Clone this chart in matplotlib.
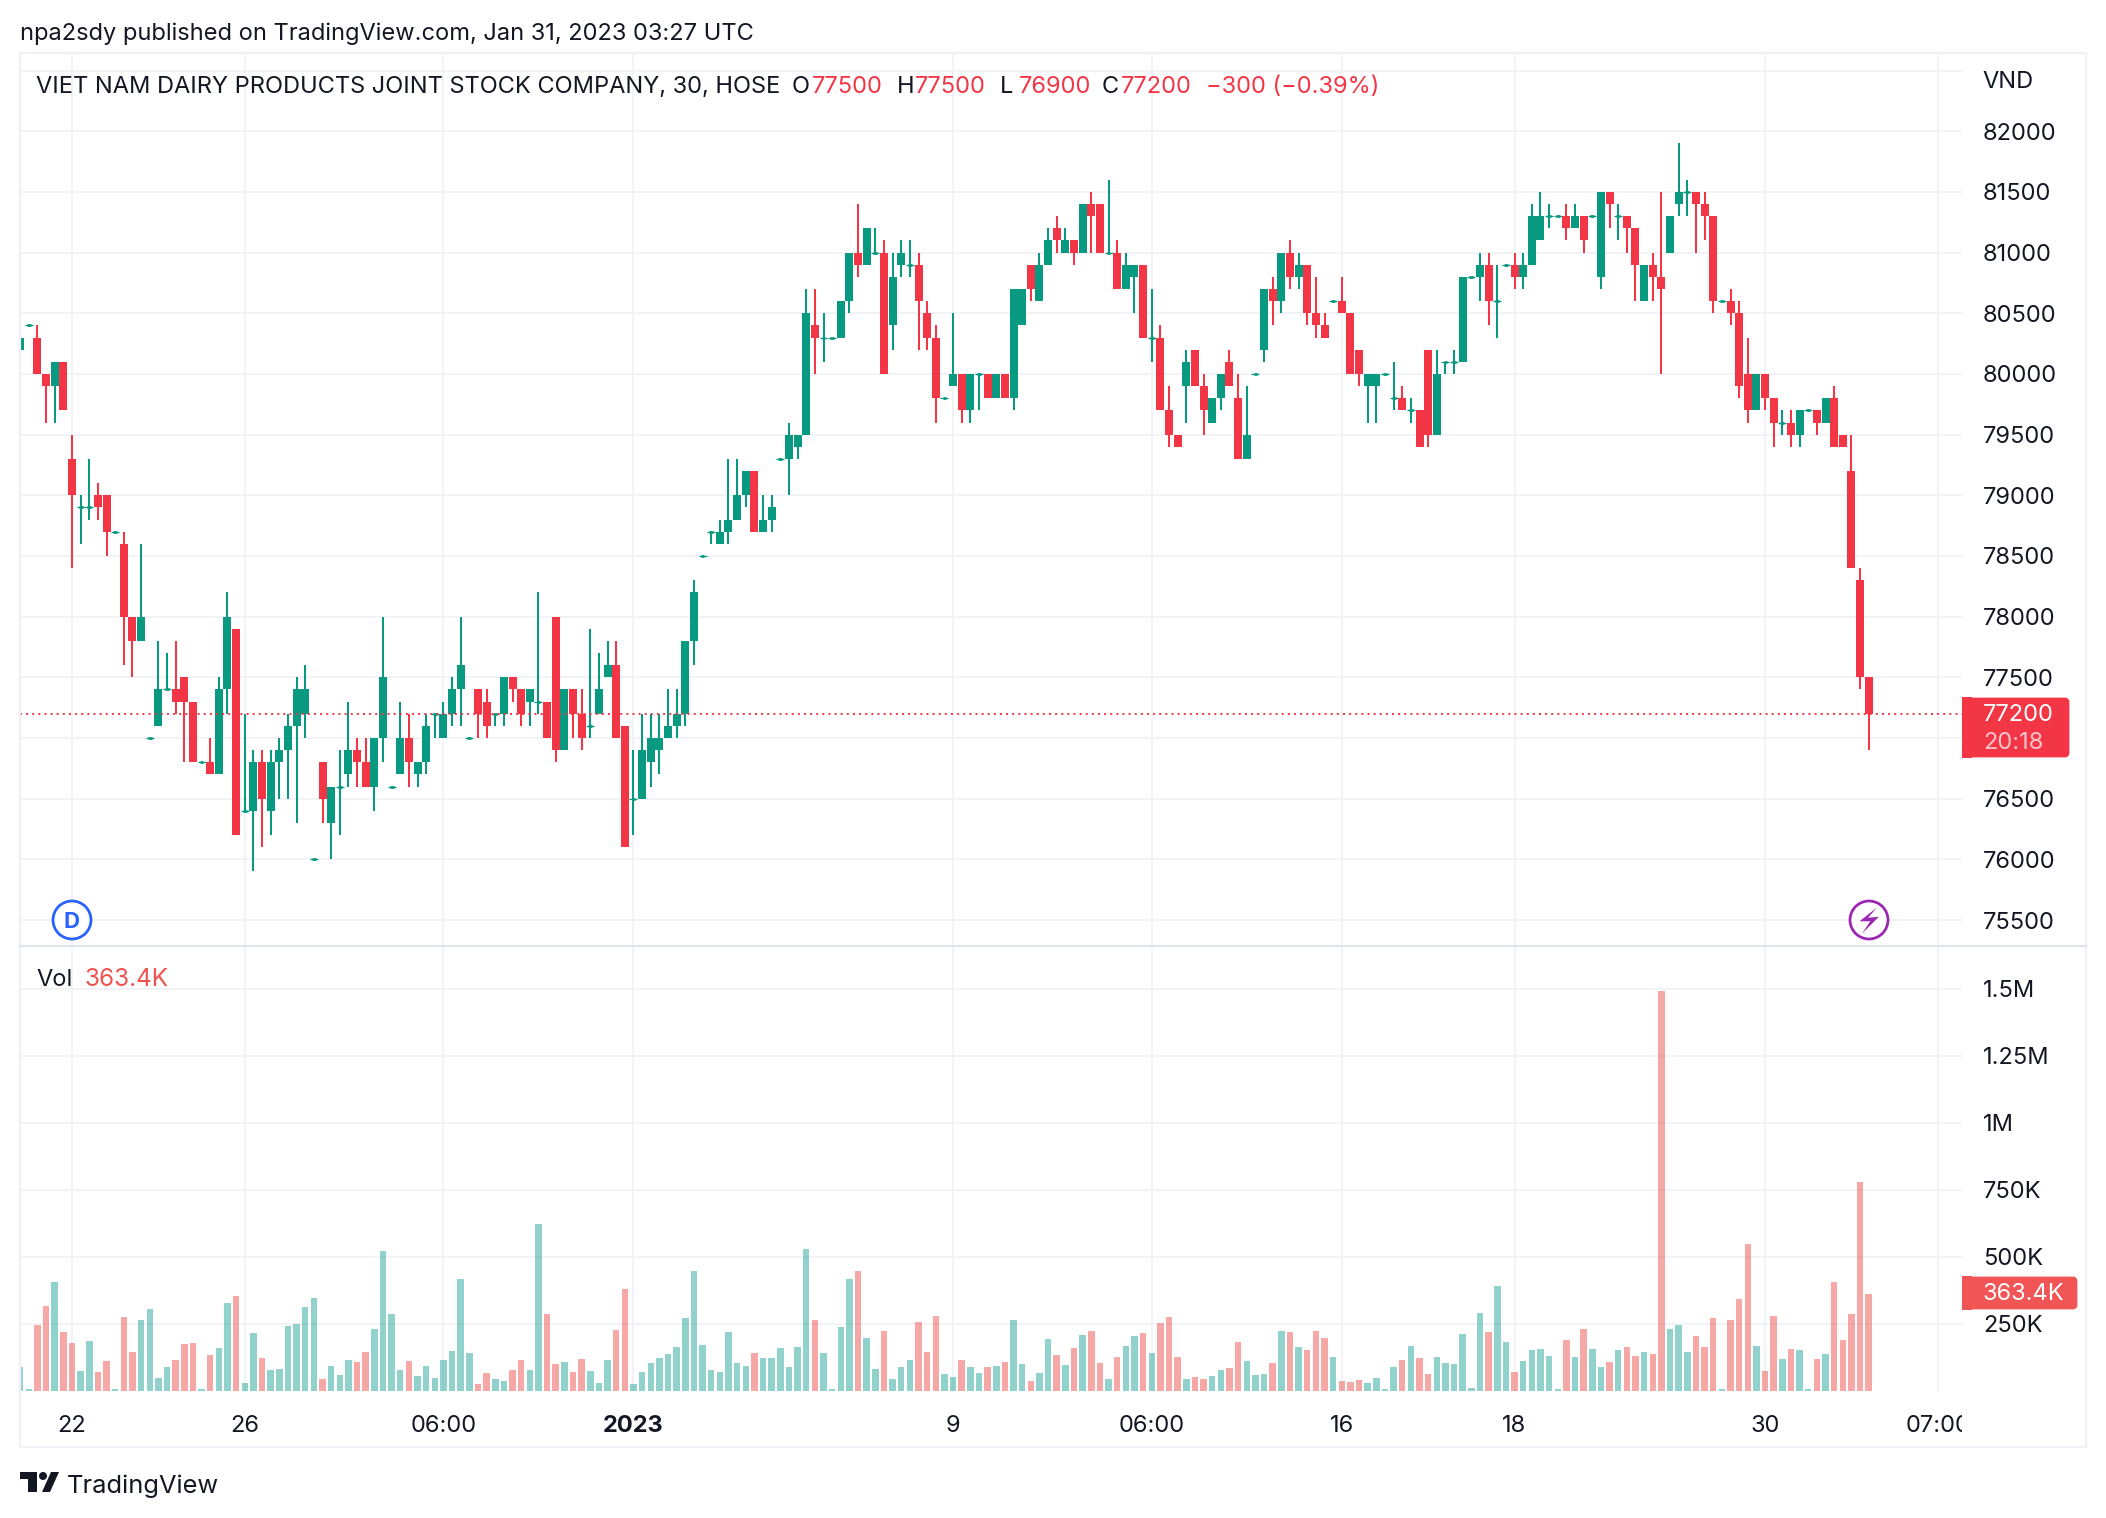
"""
VNM 30 min candles with volume, TradingView look
"""

import matplotlib
matplotlib.use("Agg")
import matplotlib.pyplot as plt
from matplotlib.patches import Circle, FancyBboxPatch, Polygon, Rectangle
from matplotlib.transforms import Bbox

plt.rcParams['font.family'] = ['Inter', 'DejaVu Sans']

opens = [
    80200, 80400, 80300, 80000, 79900, 80100, 79300, 78900, 78900, 79000,
    79000, 78700, 78600, 78000, 77800, 77000, 77100, 77400, 77400, 77500,
    77300, 76800, 76800, 76700, 77400, 77900, 76400, 76400, 76800, 76400,
    76800, 76900, 77100, 77200, 76000, 76800, 76300, 76600, 76700, 76900,
    76800, 76600, 77000, 76600, 76700, 77000, 76700, 76800, 77200, 77000,
    77200, 77400, 77000, 77400, 77300, 77200, 77200, 77500, 77400, 77300,
    77300, 77300, 78000, 76900, 77400, 77200, 77100, 77200, 77500, 77600,
    77100, 76500, 76500, 76800, 76900, 77000, 77100, 77200, 77800, 78500,
    78700, 78600, 78700, 78800, 79000, 79200, 78700, 78800, 79300, 79300,
    79400, 79500, 80400, 80300, 80300, 80300, 80600, 81000, 80900, 81000,
    81000, 80400, 80900, 80900, 80900, 80500, 80300, 79800, 79900, 80000,
    79700, 80000, 80000, 79800, 80000, 79800, 80400, 80900, 80600, 80900,
    81200, 81000, 81100, 81000, 81400, 81400, 81000, 81000, 80700, 80800,
    80900, 80300, 80300, 79700, 79500, 79900, 80200, 79900, 79600, 79800,
    80100, 79800, 79300, 80000, 80200, 80700, 80600, 81000, 80800, 80900,
    80500, 80400, 80600, 80600, 80500, 80200, 79900, 79900, 80000, 79800,
    79800, 79700, 79700, 80200, 79500, 80100, 80100, 80100, 80800, 80800,
    80900, 80600, 80900, 80900, 80800, 80900, 81100, 81300, 81300, 81300,
    81200, 81300, 81300, 80800, 81500, 81300, 81300, 81200, 80600, 80900,
    80800, 81000, 81400, 81500, 81500, 81400, 81300, 80600, 80600, 80500,
    80000, 79700, 80000, 79800, 79600, 79600, 79500, 79700, 79700, 79600,
    79800, 79500, 79200, 78300, 77500,
]
highs = [
    80500, 80400, 80400, 80000, 80100, 80100, 79500, 79000, 79300, 79100,
    79000, 78700, 78700, 78000, 78600, 77000, 77800, 77700, 77800, 77500,
    77300, 76800, 77000, 77500, 78200, 77900, 77200, 76900, 76900, 76900,
    77000, 77200, 77500, 77600, 76000, 76800, 76600, 76900, 77300, 77000,
    77000, 77000, 78000, 76600, 77300, 77200, 76800, 77200, 77200, 77300,
    77500, 78000, 77000, 77400, 77400, 77200, 77500, 77500, 77400, 77400,
    78200, 77300, 78000, 77400, 77400, 77400, 77900, 77700, 77800, 77800,
    77100, 76900, 77200, 77200, 77200, 77400, 77400, 77800, 78300, 78500,
    78700, 78800, 79300, 79300, 79200, 79200, 79000, 79000, 79300, 79600,
    79500, 80700, 80700, 80500, 80300, 80600, 81000, 81400, 81200, 81200,
    81100, 81000, 81100, 81100, 81000, 80600, 80400, 79800, 80500, 80000,
    80000, 80000, 80000, 80000, 80000, 80700, 80700, 80900, 81000, 81200,
    81300, 81200, 81100, 81400, 81500, 81400, 81600, 81100, 81000, 80900,
    80900, 80700, 80400, 79900, 79500, 80200, 80200, 80000, 79800, 80000,
    80200, 80000, 79900, 80000, 80700, 80800, 81000, 81100, 81000, 80900,
    80800, 80500, 80600, 80800, 80500, 80200, 80000, 80000, 80000, 80100,
    79900, 79800, 79700, 80200, 80200, 80100, 80200, 80800, 80800, 81000,
    81000, 80900, 80900, 81000, 81000, 81400, 81500, 81400, 81300, 81400,
    81400, 81300, 81300, 81500, 81500, 81400, 81300, 81200, 80900, 81000,
    81500, 81300, 81900, 81600, 81500, 81500, 81300, 80600, 80700, 80600,
    80300, 80000, 80000, 79800, 79700, 79700, 79700, 79700, 79700, 79800,
    79900, 79500, 79500, 78400, 77500,
]
lows = [
    80200, 80400, 80000, 79600, 79600, 79700, 78400, 78600, 78800, 78800,
    78500, 78700, 77600, 77500, 77800, 77000, 77100, 77400, 77200, 76800,
    76800, 76800, 76700, 76700, 77200, 76200, 76400, 75900, 76100, 76200,
    76500, 76500, 76300, 77000, 76000, 76300, 76000, 76200, 76600, 76600,
    76600, 76400, 76800, 76600, 76700, 76600, 76600, 76700, 77000, 77000,
    77100, 77100, 77000, 77000, 77000, 77100, 77100, 77300, 77100, 77100,
    77200, 77000, 76800, 76900, 77000, 76900, 77000, 77200, 77500, 77000,
    76100, 76200, 76500, 76600, 76700, 77000, 77000, 77100, 77600, 78500,
    78600, 78600, 78600, 78800, 78900, 78700, 78700, 78700, 79300, 79000,
    79300, 79500, 80000, 80100, 80300, 80300, 80500, 80800, 80900, 81000,
    80000, 80200, 80800, 80800, 80200, 80200, 79600, 79800, 79900, 79600,
    79600, 79700, 79800, 79800, 79800, 79700, 80400, 80600, 80600, 80900,
    81000, 81000, 80900, 81000, 81000, 81000, 81000, 80700, 80700, 80500,
    80300, 80100, 79700, 79400, 79400, 79600, 79900, 79500, 79600, 79700,
    79900, 79300, 79300, 80000, 80100, 80400, 80500, 80700, 80700, 80400,
    80300, 80300, 80600, 80500, 80000, 79900, 79600, 79600, 80000, 79700,
    79700, 79600, 79400, 79400, 79500, 80000, 80000, 80100, 80800, 80600,
    80400, 80300, 80900, 80700, 80700, 80900, 81100, 81200, 81300, 81100,
    81200, 81000, 81300, 80700, 81200, 81100, 81000, 80600, 80600, 80600,
    80000, 81000, 81300, 81300, 81000, 81100, 80500, 80600, 80400, 79800,
    79600, 79700, 79700, 79400, 79500, 79400, 79400, 79700, 79500, 79600,
    79400, 79400, 78400, 77400, 76900,
]
closes = [
    80300, 80400, 80000, 79900, 80100, 79700, 79000, 78900, 78900, 78900,
    78700, 78700, 78000, 77800, 78000, 77000, 77400, 77400, 77300, 77300,
    76800, 76800, 76700, 77400, 78000, 76200, 76400, 76800, 76500, 76800,
    76900, 77100, 77400, 77400, 76000, 76500, 76600, 76600, 76900, 76800,
    76600, 77000, 77500, 76600, 77000, 76800, 76800, 77100, 77200, 77200,
    77400, 77600, 77000, 77200, 77100, 77200, 77500, 77400, 77200, 77400,
    77300, 77000, 76900, 77400, 77200, 77000, 77100, 77400, 77600, 77000,
    76100, 76500, 76900, 77000, 77000, 77100, 77200, 77800, 78200, 78500,
    78700, 78700, 78800, 79000, 79200, 78700, 78800, 78900, 79300, 79500,
    79500, 80500, 80300, 80300, 80300, 80600, 81000, 80900, 81200, 81000,
    80000, 80800, 81000, 80900, 80600, 80300, 79800, 79800, 80000, 79700,
    80000, 80000, 79800, 80000, 79800, 80700, 80700, 80700, 80900, 81100,
    81100, 81100, 81000, 81400, 81300, 81000, 81000, 80700, 80900, 80900,
    80300, 80300, 79700, 79500, 79400, 80100, 79900, 79700, 79800, 80000,
    79900, 79300, 79500, 80000, 80700, 80600, 81000, 80800, 80900, 80500,
    80400, 80300, 80600, 80500, 80000, 80000, 80000, 80000, 80000, 79800,
    79700, 79700, 79400, 79500, 80000, 80100, 80100, 80800, 80800, 80900,
    80600, 80600, 80900, 80800, 80900, 81300, 81300, 81300, 81300, 81200,
    81300, 81100, 81300, 81500, 81400, 81300, 81200, 80900, 80900, 80800,
    80700, 81300, 81500, 81500, 81400, 81300, 80600, 80600, 80500, 79900,
    79700, 80000, 79800, 79600, 79600, 79500, 79700, 79700, 79600, 79800,
    79400, 79400, 78400, 77500, 77200,
]
# thousands of shares
volumes = [
    89, 7, 245, 316, 405, 219, 178, 74, 186, 71,
    111, 7, 275, 145, 264, 304, 48, 89, 115, 174,
    178, 7, 134, 160, 327, 356, 30, 215, 123, 78,
    82, 241, 249, 312, 345, 45, 93, 59, 115, 108,
    145, 230, 523, 286, 78, 111, 56, 93, 48, 115,
    149, 416, 141, 26, 67, 45, 37, 78, 115, 78,
    624, 286, 100, 108, 71, 119, 74, 30, 115, 226,
    382, 26, 71, 104, 123, 137, 163, 271, 449, 171,
    78, 71, 219, 104, 93, 141, 123, 123, 160, 89,
    163, 531, 264, 141, 7, 238, 416, 446, 197, 82,
    223, 45, 89, 115, 256, 145, 278, 63, 52, 115,
    89, 67, 89, 93, 108, 264, 100, 37, 67, 193,
    134, 97, 160, 208, 223, 104, 45, 126, 167, 204,
    215, 141, 252, 275, 126, 45, 52, 45, 56, 78,
    85, 182, 111, 59, 63, 104, 223, 219, 163, 152,
    223, 197, 126, 37, 33, 41, 30, 48, 7, 89,
    115, 167, 123, 63, 126, 104, 100, 212, 11, 290,
    219, 390, 182, 71, 111, 152, 156, 130, 7, 189,
    126, 230, 156, 89, 108, 152, 163, 130, 145, 137,
    1492, 230, 245, 145, 204, 163, 271, 7, 264, 342,
    549, 167, 74, 278, 119, 156, 152, 7, 119, 137,
    405, 189, 286, 780, 363.4,
]

price_ticks = [75500, 76000, 76500, 77000, 77500, 78000, 78500, 79000,
               79500, 80000, 80500, 81000, 81500, 82000, 82500]
# 77000 sits behind the last price badge, 82500 behind the VND unit
price_labels = ['' if p in (77000, 82500) else str(p) for p in price_ticks]
vol_ticks = [250, 500, 750, 1000, 1250, 1500]
vol_labels = ['250K', '500K', '750K', '1M', '1.25M', '1.5M']
time_ticks = [6, 26, 49, 71, 108, 131, 153, 173, 202, 222]
time_labels = ['22', '26', '06:00', '2023', '9', '06:00', '16', '18', '30', '07:00']
last_price = 77200

UP = '#089981'
DOWN = '#F23645'
TEXT = '#131722'
GRID = '#F2F3F6'
BORDER = '#F0F1F6'

W, H = 2106, 1518
fig = plt.figure(figsize=(W / 100, H / 100), dpi=100, facecolor='white')


def pane(left, top, right, bottom):
    """Axes from pixel edges, y counted from the top of the picture"""
    return fig.add_axes([left / W, 1 - bottom / H, (right - left) / W, (bottom - top) / H])


ax = pane(20, 53, 1962, 946)
ax_vol = pane(20, 946, 1962, 1392)

# one bar is 8.639 px, bar 0 sits at x = 20.17
x_lim = (-0.02, 224.8)
for a in (ax, ax_vol):
    a.set_xlim(*x_lim)
    a.set_xticks(time_ticks)
    a.grid(True, color=GRID, linewidth=1.4)
    a.set_axisbelow(True)
    for s in a.spines.values():
        s.set_visible(False)
    a.yaxis.tick_right()
    a.tick_params(axis='both', length=0)
    a.tick_params(axis='y', pad=15, labelsize=17, labelcolor=TEXT)

ax.set_ylim(75286, 82645)
ax.set_yticks(price_ticks)
ax.set_yticklabels(price_labels)
ax.tick_params(axis='x', labelbottom=False)

ax_vol.set_ylim(-4, 1660)
ax_vol.set_yticks(vol_ticks)
ax_vol.set_yticklabels(vol_labels)
ax_vol.tick_params(axis='x', pad=16.5, labelsize=17, labelcolor=TEXT)
ax_vol.set_xticklabels(time_labels)

clip = Bbox([[20, 0], [1962, H]])
for lab, name in zip(ax_vol.get_xticklabels(), time_labels):
    lab.set_clip_box(clip)
    lab.set_clip_on(True)
    if name == '2023':
        lab.set_fontweight('bold')

# candles and volume
for i, (o, h, l, c, v) in enumerate(zip(opens, highs, lows, closes, volumes)):
    col = UP if c >= o else DOWN
    if h > l:
        ax.vlines(i, l, h, color=col, linewidth=1.45, zorder=3)
    if c == o:
        ax.hlines(c, i - 0.46, i + 0.46, color=col, linewidth=0.9, zorder=4)
        ax.hlines(c, i - 0.22, i + 0.22, color=col, linewidth=2.0, zorder=4)
    else:
        ax.bar(i, abs(c - o), bottom=min(o, c), width=0.926, color=col, linewidth=0, zorder=4)
    vcol = '#26A69A' if c >= o else '#EF5350'
    ax_vol.bar(i, v, width=0.75, color=vcol, alpha=0.5, linewidth=0, zorder=3)

ax.axhline(last_price, color=DOWN, linewidth=1.4, linestyle=(0, (1.0, 2.15)), zorder=5)

# everything else is placed in picture pixels
ov = fig.add_axes([0, 0, 1, 1], zorder=10)
ov.set_xlim(0, W)
ov.set_ylim(H, 0)
ov.axis('off')
ov.patch.set_visible(False)

ov.add_patch(Rectangle((20, 53), 2066, 1394, fill=False, edgecolor=BORDER, linewidth=1.6))
ov.plot([20, 2086], [946, 946], color='#E0E3EB', linewidth=1.5)

ov.text(20, 34, 'npa2sdy published on TradingView.com, Jan 31, 2023 03:27 UTC',
        fontsize=17, color=TEXT, va='center')
ov.text(36, 87, 'VIET NAM DAIRY PRODUCTS JOINT STOCK COMPANY, 30, HOSE',
        fontsize=17, color=TEXT, va='center')
for x, s, col in [(792, 'O', TEXT), (812, '77500', DOWN), (897, 'H', TEXT), (915, '77500', DOWN),
                  (1000, 'L', TEXT), (1019, '76900', DOWN), (1102, 'C', TEXT), (1121, '77200', DOWN),
                  (1206, '\u2212300 (\u22120.39%)', DOWN)]:
    ov.text(x, 87, s, fontsize=17, color=col, va='center')
ov.text(1982, 82, 'VND', fontsize=17, color=TEXT, va='center')
ov.text(36, 980, 'Vol', fontsize=17, color=TEXT, va='center')
ov.text(85, 980, '363.4K', fontsize=17.5, color='#EF5350', va='center')

# last price badge
ov.add_patch(FancyBboxPatch((1964, 699), 104, 57, boxstyle='round,pad=0,rounding_size=3',
                            facecolor=DOWN, edgecolor=DOWN, linewidth=2))
ov.add_patch(Rectangle((1962, 697), 10, 61, facecolor=DOWN, linewidth=0))
ov.text(1983, 715, '77200', fontsize=17, color='white', va='center')
ov.text(1983, 743, '20:18', fontsize=17, color='#FBC4C9', va='center')

# last volume badge
ov.add_patch(FancyBboxPatch((1964, 1278), 112, 30, boxstyle='round,pad=0,rounding_size=3',
                            facecolor='#F15555', edgecolor='#F15555', linewidth=2))
ov.add_patch(Rectangle((1962, 1276), 10, 34, facecolor='#F15555', linewidth=0))
ov.text(1983, 1294, '363.4K', fontsize=17, color='white', va='center')

# D and lightning markers
ov.add_patch(Circle((72, 920), 19, facecolor='white', edgecolor='#2962FF', linewidth=2))
ov.text(72, 920, 'D', fontsize=16, fontweight='bold', color='#2962FF', ha='center', va='center_baseline')
ov.add_patch(Circle((1869, 920), 19, facecolor='white', edgecolor='#9C27B0', linewidth=2))
bolt = [(8, -12.5), (-9.5, 1.3), (1.3, 1.3), (-7.3, 13.9), (9.9, -3.2), (-0.9, -2.3)]
ov.add_patch(Polygon([(1869 + dx, 920 + dy) for dx, dy in bolt], facecolor='#9C27B0', linewidth=0))

# TradingView logo
ov.add_patch(Polygon([(20, 1472), (37, 1472), (37, 1492), (28, 1492), (28, 1479), (20, 1479)],
                     facecolor=TEXT, linewidth=0))
ov.add_patch(Circle((43, 1476), 4, facecolor=TEXT, linewidth=0))
ov.add_patch(Polygon([(59, 1472), (51, 1472), (42, 1492), (50, 1492)], facecolor=TEXT, linewidth=0))
ov.text(67, 1486, 'TradingView', fontsize=18.3, color=TEXT, va='center')

plt.savefig('out.png', dpi=100)
